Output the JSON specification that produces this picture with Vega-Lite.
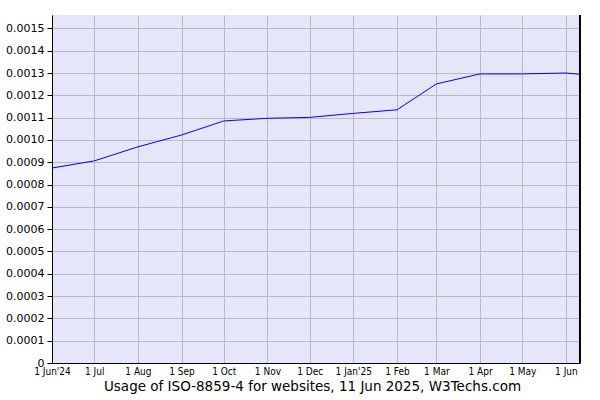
{
  "$schema": "https://vega.github.io/schema/vega-lite/v6.json",
  "width": 528,
  "height": 348,
  "autosize": {"type": "none"},
  "padding": {"left": 52, "top": 15, "right": 20, "bottom": 37},
  "background": "white",
  "config": {
    "view": {"fill": "#e6e6fa", "stroke": null},
    "font": "DejaVu Sans"
  },
  "data": {
    "values": [
      {"date": "2024-06-01", "share": 0.000874},
      {"date": "2024-07-01", "share": 0.000906},
      {"date": "2024-08-01", "share": 0.000969},
      {"date": "2024-09-01", "share": 0.001022},
      {"date": "2024-10-01", "share": 0.001085},
      {"date": "2024-11-01", "share": 0.001097},
      {"date": "2024-12-01", "share": 0.001101},
      {"date": "2025-01-01", "share": 0.001119},
      {"date": "2025-02-01", "share": 0.001135},
      {"date": "2025-03-01", "share": 0.001251},
      {"date": "2025-04-01", "share": 0.001296},
      {"date": "2025-05-01", "share": 0.001296},
      {"date": "2025-06-01", "share": 0.001300},
      {"date": "2025-06-11", "share": 0.001294}
    ]
  },
  "layer": [
    {
      "mark": {"type": "line", "color": "#0000ff", "strokeWidth": 1, "clip": true},
      "encoding": {
        "x": {
          "field": "date",
          "type": "temporal",
          "scale": {
            "type": "utc",
            "domain": [
              {"year": 2024, "month": 6, "date": 1, "utc": true},
              {"year": 2025, "month": 6, "date": 11, "utc": true}
            ]
          },
          "axis": {
            "values": [
              {"year": 2024, "month": 6, "date": 1, "utc": true},
              {"year": 2024, "month": 7, "date": 1, "utc": true},
              {"year": 2024, "month": 8, "date": 1, "utc": true},
              {"year": 2024, "month": 9, "date": 1, "utc": true},
              {"year": 2024, "month": 10, "date": 1, "utc": true},
              {"year": 2024, "month": 11, "date": 1, "utc": true},
              {"year": 2024, "month": 12, "date": 1, "utc": true},
              {"year": 2025, "month": 1, "date": 1, "utc": true},
              {"year": 2025, "month": 2, "date": 1, "utc": true},
              {"year": 2025, "month": 3, "date": 1, "utc": true},
              {"year": 2025, "month": 4, "date": 1, "utc": true},
              {"year": 2025, "month": 5, "date": 1, "utc": true},
              {"year": 2025, "month": 6, "date": 1, "utc": true}
            ],
            "labelExpr": "utcFormat(datum.value, '%-d %b') + ((utcmonth(datum.value) == 0 || (utcmonth(datum.value) == 5 && utcyear(datum.value) == 2024)) ? \"'\" + utcFormat(datum.value, '%y') : '')",
            "title": "Usage of ISO-8859-4 for websites, 11 Jun 2025, W3Techs.com",
            "titleFont": "DejaVu Sans",
            "titleFontSize": 13.5,
            "titleFontWeight": "normal",
            "titleColor": "#000000",
            "titlePadding": 3,
            "titleX": 260,
            "labelFont": "DejaVu Sans Condensed",
            "labelFontSize": 10,
            "labelColor": "#000000",
            "labelPadding": 3,
            "labelOverlap": false,
            "labelFlush": false,
            "ticks": false,
            "grid": true,
            "gridColor": "#bbbbbb",
            "gridWidth": 1,
            "domainColor": "#000000",
            "domainWidth": 1
          }
        },
        "y": {
          "field": "share",
          "type": "quantitative",
          "scale": {"domain": [0, 0.00156], "nice": false, "zero": true},
          "axis": {
            "values": [0, 0.0001, 0.0002, 0.0003, 0.0004, 0.0005, 0.0006, 0.0007, 0.0008, 0.0009, 0.001, 0.0011, 0.0012, 0.0013, 0.0014, 0.0015],
            "labelExpr": "datum.value == 0 ? '0' : format(datum.value, '.4f')",
            "title": null,
            "labelFont": "DejaVu Sans",
            "labelFontSize": 11,
            "labelColor": "#000000",
            "labelPadding": 3,
            "tickSize": 5,
            "tickColor": "#000000",
            "grid": true,
            "gridColor": "#bbbbbb",
            "gridWidth": 1,
            "domainColor": "#000000",
            "domainWidth": 1
          }
        }
      }
    },
    {
      "mark": {"type": "rule", "color": "#000000", "strokeWidth": 1},
      "encoding": {
        "x": {"datum": {"year": 2025, "month": 6, "date": 11, "utc": true}, "type": "temporal"}
      }
    }
  ]
}
